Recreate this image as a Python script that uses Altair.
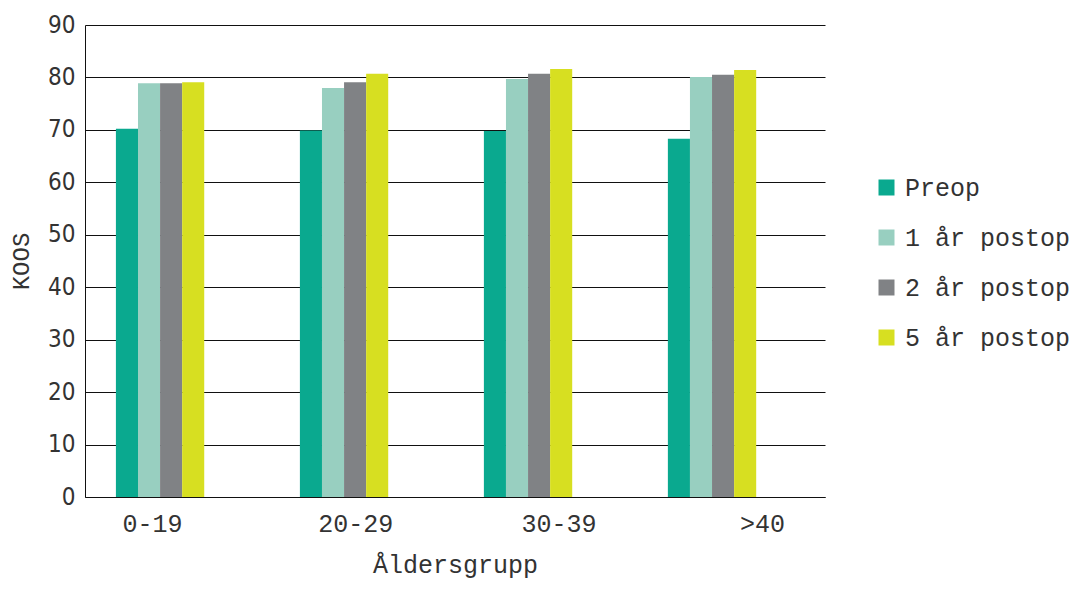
import altair as alt
import pandas as pd

groups = ["0-19", "20-29", "30-39", ">40"]
series = ["Preop", "1 år postop", "2 år postop", "5 år postop"]
preop = [70.2, 69.9, 69.8, 68.3]
post1 = [78.9, 78.0, 79.7, 80.1]
post2 = [78.9, 79.1, 80.7, 80.5]
post5 = [79.1, 80.7, 81.6, 81.4]
colors = ["#0aa98f", "#98cfc0", "#808285", "#d7df21"]
y_ticks = [0, 10, 20, 30, 40, 50, 60, 70, 80, 90]

rows = []
for s, vals in zip(series, [preop, post1, post2, post5]):
    for g, v in zip(groups, vals):
        rows.append({"group": g, "series": s, "koos": v})
df = pd.DataFrame(rows)
lab_df = pd.DataFrame({"group": groups})

mono = "Liberation Mono"
narrow = "DejaVu Sans Condensed"
txt = "#333333"

bars = alt.Chart(df).mark_bar().encode(
    x=alt.X("group:N", sort=groups,
            scale=alt.Scale(paddingInner=0.52, paddingOuter=0.271, align=0.31),
            axis=None),
    xOffset=alt.XOffset("series:N", sort=series,
                        scale=alt.Scale(paddingInner=0, paddingOuter=0)),
    y=alt.Y("koos:Q", scale=alt.Scale(domain=[0, 90], nice=False),
            axis=alt.Axis(values=y_ticks, grid=True, gridColor="#111111", gridWidth=1,
                          domain=True, domainColor="#111111", domainWidth=1,
                          ticks=False, labelPadding=10,
                          labelFont=narrow, labelFontSize=24, labelColor=txt,
                          title="KOOS", titleFont=mono, titleFontSize=24,
                          titleFontWeight="normal", titleColor=txt, titlePadding=14)),
    color=alt.Color("series:N", sort=series,
                    scale=alt.Scale(domain=series, range=colors),
                    legend=alt.Legend(title=None, orient="none", legendX=789, legendY=150,
                                      symbolType="square", symbolSize=256,
                                      symbolStrokeWidth=0, symbolOpacity=1,
                                      labelFont=mono, labelFontSize=25, labelColor=txt,
                                      labelOffset=6, rowPadding=24, labelLimit=400)),
)

labels = alt.Chart(lab_df).mark_text(opacity=0).encode(
    x=alt.X("group:N", sort=groups,
            scale=alt.Scale(type="point", padding=0.32, align=0.515),
            axis=alt.Axis(orient="bottom", domain=True, domainColor="#111111", domainWidth=1,
                          ticks=False, labelPadding=14, labelAngle=0,
                          labelFont=mono, labelFontSize=25, labelColor=txt,
                          title="Åldersgrupp", titleFont=mono, titleFontSize=25,
                          titleFontWeight="normal", titleColor=txt, titlePadding=16)),
    y=alt.value(0),
)

chart = alt.layer(bars, labels).resolve_scale(x="independent").properties(
    width=740, height=472,
    background="white",
    autosize=alt.AutoSizeParams(type="none"),
    padding={"left": 85, "top": 25, "right": 256, "bottom": 93},
).configure_view(stroke=None)

chart.save("out.html", embed_options={"renderer": "svg", "actions": False})
